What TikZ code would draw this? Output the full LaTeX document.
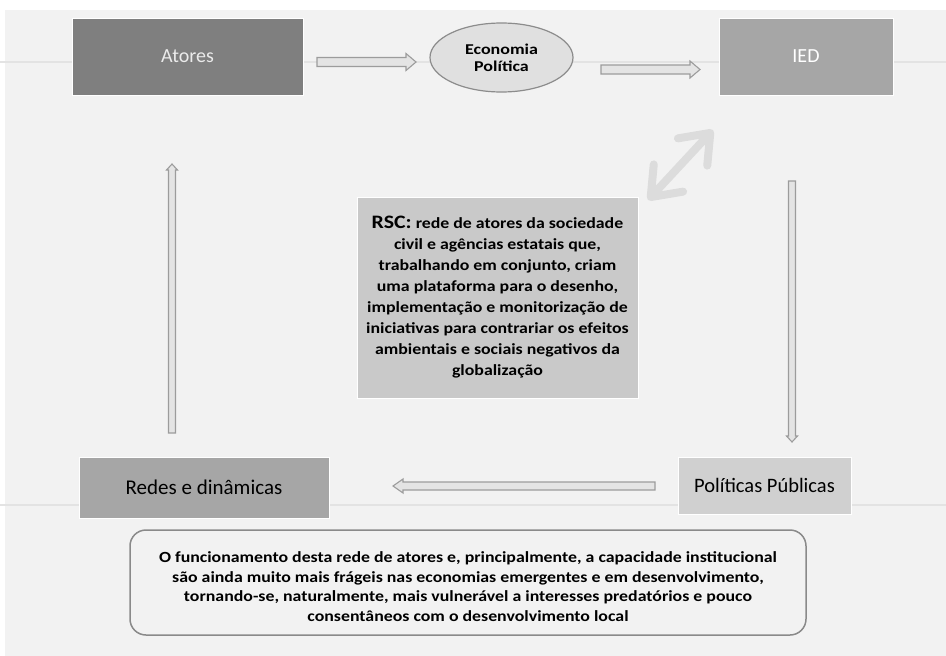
\documentclass[tikz,border=0pt]{standalone}
\usepackage{fontspec}
\setmainfont{Carlito}
\usetikzlibrary{calc,arrows.meta,shapes.geometric}

\definecolor{pagebg}{HTML}{F2F2F2}
\definecolor{darkbox}{HTML}{7F7F7F}
\definecolor{midbox}{HTML}{A6A6A6}
\definecolor{rscbox}{HTML}{C9C9C9}
\definecolor{lightbox}{HTML}{D0D0D0}
\definecolor{ellfill}{HTML}{E0E0E0}
\definecolor{ellline}{HTML}{8C8C8C}
\definecolor{arrline}{HTML}{9C9C9C}
\definecolor{arrfill}{HTML}{E4E4E4}
\definecolor{diagarr}{HTML}{DCDCDC}
\definecolor{guide}{HTML}{E3E3E3}
\definecolor{frameline}{HTML}{8A8A8A}

% slightly widened face for the dense bold paragraphs
\newfontfamily\widefont[FakeStretch=1.15]{Carlito}
\newfontfamily\widerfont[FakeStretch=1.2]{Carlito}

\tikzset{
  box/.style={rectangle, draw=white, line width=1pt, inner sep=0pt, align=center},
  hollowarrow/.style={draw=arrline, fill=arrfill, line width=1.1pt, line join=miter},
  guideline/.style={draw=guide, line width=2pt},
}

% outlined block arrow from #1 to #2 pointing along angle #3;
% #4 half shaft width, #5 half head width, #6 head length
\newcommand\blockarrow[6]{%
  \draw[hollowarrow]
    ($(#1)+(#3+90:#4)$) --
    ($(#2)+(#3:-#6)+(#3+90:#4)$) --
    ($(#2)+(#3:-#6)+(#3+90:#5)$) --
    (#2) --
    ($(#2)+(#3:-#6)+(#3-90:#5)$) --
    ($(#2)+(#3:-#6)+(#3-90:#4)$) --
    ($(#1)+(#3-90:#4)$) -- cycle;}

\begin{document}
\begin{tikzpicture}[x=1pt,y=-1pt]
  \useasboundingbox (0,0) rectangle (946,656);
  \fill[white] (0,0) rectangle (946,656);
  \fill[pagebg] (5,10) rectangle (946,656);

  % faint horizontal guide lines behind the rows
  \draw[guideline] (0,62) -- (946,62);
  \draw[guideline] (0,505) -- (946,505);

  % top row
  \node[box, fill=darkbox, minimum width=231, minimum height=77,
        text=white!92!black, font=\fontsize{20}{24}\selectfont]
        (atores) at (187.5,56.5) {Atores};
  \node[ellipse, draw=ellline, line width=1.2pt, fill=ellfill,
        minimum width=143, minimum height=69, inner sep=0pt, align=center,
        font=\widerfont\bfseries\fontsize{15}{17}\selectfont]
        (econ) at (501.5,57.5) {Economia\\Política};
  \node[box, fill=midbox, minimum width=174, minimum height=77,
        text=white, font=\fontsize{20}{24}\selectfont]
        (ied) at (806,56.5) {IED};

  % central definition
  \node[box, fill=rscbox, minimum width=281, minimum height=201,
        font=\widefont\bfseries\fontsize{15.5}{21}\selectfont]
        (rsc) at (497.5,297.5)
        {{\fontsize{19}{21}\selectfont RSC:} rede de atores da sociedade\\
         civil e agências estatais que,\\
         trabalhando em conjunto, criam\\
         uma plataforma para o desenho,\\
         implementação e monitorização de\\
         iniciativas para contrariar os efeitos\\
         ambientais e sociais negativos da\\
         globalização};

  % bottom row
  \node[box, fill=midbox, minimum width=250, minimum height=61,
        font=\fontsize{21}{24}\selectfont]
        (redes) at (204,487.5) {Redes e dinâmicas};
  \node[box, fill=lightbox, minimum width=173, minimum height=57,
        font=\fontsize{20.5}{24}\selectfont]
        (pol) at (764.5,485.5) {Políticas Públicas};

  % note frame (the strut on the first line sets the text a little low)
  \node[rectangle, rounded corners=16pt, draw=frameline, line width=1.5pt,
        fill=pagebg, minimum width=676, minimum height=105, inner sep=0pt,
        align=center, font=\widefont\bfseries\fontsize{15.5}{19.5}\selectfont]
        (note) at (468,582.5)
        {\rule{0pt}{19pt}O funcionamento desta rede de atores e, principalmente, a capacidade institucional\\
         são ainda muito mais frágeis nas economias emergentes e em desenvolvimento,\\
         tornando-se, naturalmente, mais vulnerável a interesses predatórios e pouco\\
         consentâneos com o desenvolvimento local};

  % connector end points
  \coordinate (a1s) at (317,62);   \coordinate (a1e) at (416,62);
  \coordinate (a2s) at (601,69.5); \coordinate (a2e) at (700,69.5);
  \coordinate (a3s) at (655,486);  \coordinate (a3e) at (393,486);
  \coordinate (a4s) at (172,433);  \coordinate (a4e) at (172,164);
  \coordinate (a5s) at (792,181);  \coordinate (a5e) at (792,442);
  \coordinate (dA) at (648,200);   \coordinate (dB) at (713,130);

  % block arrows
  \blockarrow{a1s}{a1e}{0}{4.5}{8.5}{10}
  \blockarrow{a2s}{a2e}{0}{4.5}{8.5}{10}
  \blockarrow{a3s}{a3e}{180}{4}{7}{10}
  \blockarrow{a4s}{a4e}{270}{3.5}{5.5}{6}
  \blockarrow{a5s}{a5e}{90}{3.5}{5.5}{6}

  % two-way link between IED and the definition
  \draw[diagarr, line width=8pt, line cap=round,
        {Straight Barb[length=26pt,width=40pt,round]}-{Straight Barb[length=26pt,width=40pt,round]}]
        (dA) -- (dB);
\end{tikzpicture}
\end{document}
